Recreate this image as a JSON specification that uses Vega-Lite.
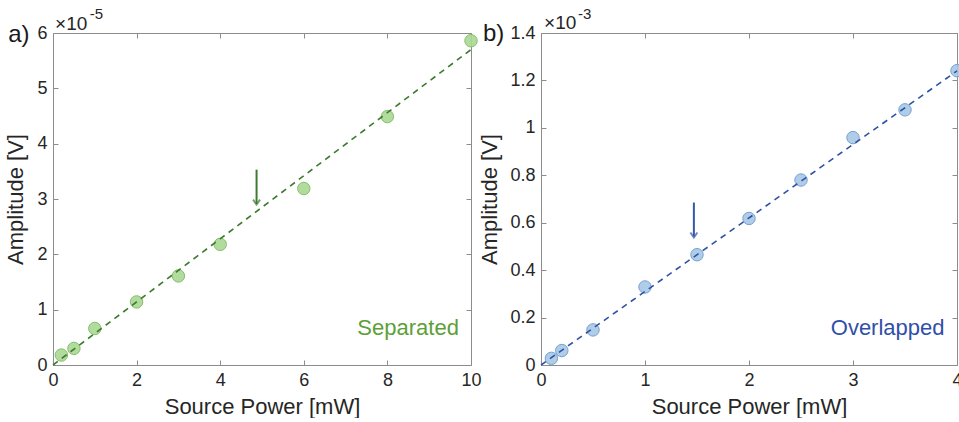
{
  "$schema": "https://vega.github.io/schema/vega-lite/v6.json",
  "background": "white",
  "padding": {"left": 4, "top": 6, "right": 0, "bottom": 0},
  "autosize": {"type": "pad"},
  "spacing": 70,
  "bounds": "flush",
  "config": {
    "font": "Liberation Sans",
    "view": {"stroke": "#8c8c8c", "strokeWidth": 1},
    "axis": {
      "domain": false,
      "grid": false,
      "tickColor": "#8c8c8c",
      "tickSize": -5,
      "tickWidth": 1,
      "labelFont": "Liberation Sans",
      "labelFontSize": 18,
      "labelColor": "#262626",
      "labelPadding": 11,
      "labelFlush": false,
      "labelOverlap": false,
      "titleFont": "Liberation Sans",
      "titleFontSize": 22,
      "titleFontWeight": "normal",
      "titleColor": "#262626"
    }
  },
  "datasets": {
    "sep": [
      {"power": 0.2, "amp": 0.18},
      {"power": 0.5, "amp": 0.30},
      {"power": 1, "amp": 0.66},
      {"power": 2, "amp": 1.14},
      {"power": 3, "amp": 1.61},
      {"power": 4, "amp": 2.18},
      {"power": 6, "amp": 3.19},
      {"power": 8, "amp": 4.49},
      {"power": 10, "amp": 5.86}
    ],
    "sepfit": [
      {"power": 0, "amp": 0},
      {"power": 10, "amp": 5.70}
    ],
    "ovl": [
      {"power": 0.1, "amp": 0.028},
      {"power": 0.2, "amp": 0.061},
      {"power": 0.5, "amp": 0.148},
      {"power": 1, "amp": 0.329},
      {"power": 1.5, "amp": 0.465},
      {"power": 2, "amp": 0.618},
      {"power": 2.5, "amp": 0.780},
      {"power": 3, "amp": 0.959},
      {"power": 3.5, "amp": 1.076},
      {"power": 4, "amp": 1.241}
    ],
    "ovlfit": [
      {"power": 0, "amp": 0},
      {"power": 4, "amp": 1.24}
    ]
  },
  "hconcat": [
    {
      "width": 418,
      "height": 332,
      "layer": [
        {
          "data": {"name": "sep"},
          "mark": {"type": "circle", "size": 155, "fill": "#a9d893", "fillOpacity": 0.9, "stroke": "#86bf6c", "strokeWidth": 1, "opacity": 1},
          "encoding": {
            "x": {"field": "power", "type": "quantitative", "scale": {"domain": [0, 10], "nice": false, "zero": false},
                  "axis": {"orient": "bottom", "values": [0, 2, 4, 6, 8, 10], "title": "Source Power [mW]", "titlePadding": 7}},
            "y": {"field": "amp", "type": "quantitative", "scale": {"domain": [0, 6], "nice": false, "zero": false},
                  "axis": {"orient": "left", "values": [0, 1, 2, 3, 4, 5, 6], "title": "Amplitude [V]", "titlePadding": 9}}
          }
        },
        {
          "data": {"name": "sepfit"},
          "mark": {"type": "line", "color": "#3e7b31", "strokeWidth": 1.6, "strokeDash": [6, 5]},
          "encoding": {
            "x": {"field": "power", "type": "quantitative", "scale": {"domain": [0, 10], "nice": false, "zero": false},
                  "axis": {"orient": "top", "values": [0, 2, 4, 6, 8, 10], "labels": false, "title": null}},
            "y": {"field": "amp", "type": "quantitative", "scale": {"domain": [0, 6], "nice": false, "zero": false},
                  "axis": {"orient": "right", "values": [0, 1, 2, 3, 4, 5, 6], "labels": false, "title": null}}
          }
        },
        {
          "data": {"values": [{"label": "arrow"}]},
          "mark": {"type": "rule", "color": "#3e7b31", "strokeWidth": 2},
          "encoding": {
            "x": {"datum": 4.87, "type": "quantitative", "scale": {"domain": [0, 10], "nice": false, "zero": false}, "axis": null},
            "y": {"datum": 3.53, "type": "quantitative", "scale": {"domain": [0, 6], "nice": false, "zero": false}, "axis": null},
            "y2": {"datum": 2.91}
          }
        },
        {
          "data": {"values": [{"label": "arrowhead"}]},
          "mark": {"type": "point", "shape": "M-1,-1.4L0,0L1,-1.4", "size": 49, "filled": false, "stroke": "#3e7b31", "strokeWidth": 2},
          "encoding": {
            "x": {"datum": 4.87, "type": "quantitative", "scale": {"domain": [0, 10], "nice": false, "zero": false}, "axis": null},
            "y": {"datum": 2.90, "type": "quantitative", "scale": {"domain": [0, 6], "nice": false, "zero": false}, "axis": null}
          }
        },
        {
          "data": {"values": [{"label": "Separated"}]},
          "mark": {"type": "text", "align": "right", "baseline": "middle", "fontSize": 22, "color": "#5d9f38"},
          "encoding": {
            "text": {"field": "label"},
            "x": {"datum": 9.71, "type": "quantitative", "scale": {"domain": [0, 10], "nice": false, "zero": false}, "axis": null},
            "y": {"datum": 0.66, "type": "quantitative", "scale": {"domain": [0, 6], "nice": false, "zero": false}, "axis": null}
          }
        },
        {
          "data": {"values": [{"label": "a)"}]},
          "mark": {"type": "text", "align": "left", "baseline": "middle", "fontSize": 24, "color": "#1a1a1a"},
          "encoding": {
            "text": {"field": "label"},
            "x": {"datum": -1.07, "type": "quantitative", "scale": {"domain": [0, 10], "nice": false, "zero": false}, "axis": null},
            "y": {"datum": 5.97, "type": "quantitative", "scale": {"domain": [0, 6], "nice": false, "zero": false}, "axis": null}
          }
        },
        {
          "data": {"values": [{"label": "×10"}]},
          "mark": {"type": "text", "align": "left", "baseline": "alphabetic", "fontSize": 19, "color": "#262626"},
          "encoding": {
            "text": {"field": "label"},
            "x": {"datum": 0.05, "type": "quantitative", "scale": {"domain": [0, 10], "nice": false, "zero": false}, "axis": null},
            "y": {"datum": 6.06, "type": "quantitative", "scale": {"domain": [0, 6], "nice": false, "zero": false}, "axis": null}
          }
        },
        {
          "data": {"values": [{"label": "-5"}]},
          "mark": {"type": "text", "align": "left", "baseline": "alphabetic", "fontSize": 15, "color": "#262626"},
          "encoding": {
            "text": {"field": "label"},
            "x": {"datum": 0.88, "type": "quantitative", "scale": {"domain": [0, 10], "nice": false, "zero": false}, "axis": null},
            "y": {"datum": 6.25, "type": "quantitative", "scale": {"domain": [0, 6], "nice": false, "zero": false}, "axis": null}
          }
        }
      ],
      "resolve": {"axis": {"x": "independent", "y": "independent"}}
    },
    {
      "width": 416,
      "height": 332,
      "layer": [
        {
          "data": {"name": "ovl"},
          "mark": {"type": "circle", "size": 155, "fill": "#a6c6e5", "fillOpacity": 0.9, "stroke": "#77a2cf", "strokeWidth": 1, "opacity": 1},
          "encoding": {
            "x": {"field": "power", "type": "quantitative", "scale": {"domain": [0, 4], "nice": false, "zero": false},
                  "axis": {"orient": "bottom", "values": [0, 1, 2, 3, 4], "title": "Source Power [mW]", "titlePadding": 7}},
            "y": {"field": "amp", "type": "quantitative", "scale": {"domain": [0, 1.4], "nice": false, "zero": false},
                  "axis": {"orient": "left", "values": [0, 0.2, 0.4, 0.6, 0.8, 1, 1.2, 1.4], "format": "~g", "title": "Amplitude [V]", "titlePadding": 8}}
          }
        },
        {
          "data": {"name": "ovlfit"},
          "mark": {"type": "line", "color": "#2f52a4", "strokeWidth": 1.6, "strokeDash": [6, 5]},
          "encoding": {
            "x": {"field": "power", "type": "quantitative", "scale": {"domain": [0, 4], "nice": false, "zero": false},
                  "axis": {"orient": "top", "values": [0, 1, 2, 3, 4], "labels": false, "title": null}},
            "y": {"field": "amp", "type": "quantitative", "scale": {"domain": [0, 1.4], "nice": false, "zero": false},
                  "axis": {"orient": "right", "values": [0, 0.2, 0.4, 0.6, 0.8, 1, 1.2, 1.4], "labels": false, "title": null}}
          }
        },
        {
          "data": {"values": [{"label": "arrow"}]},
          "mark": {"type": "rule", "color": "#3558a8", "strokeWidth": 2},
          "encoding": {
            "x": {"datum": 1.47, "type": "quantitative", "scale": {"domain": [0, 4], "nice": false, "zero": false}, "axis": null},
            "y": {"datum": 0.685, "type": "quantitative", "scale": {"domain": [0, 1.4], "nice": false, "zero": false}, "axis": null},
            "y2": {"datum": 0.542}
          }
        },
        {
          "data": {"values": [{"label": "arrowhead"}]},
          "mark": {"type": "point", "shape": "M-1,-1.4L0,0L1,-1.4", "size": 49, "filled": false, "stroke": "#3558a8", "strokeWidth": 2},
          "encoding": {
            "x": {"datum": 1.47, "type": "quantitative", "scale": {"domain": [0, 4], "nice": false, "zero": false}, "axis": null},
            "y": {"datum": 0.538, "type": "quantitative", "scale": {"domain": [0, 1.4], "nice": false, "zero": false}, "axis": null}
          }
        },
        {
          "data": {"values": [{"label": "Overlapped"}]},
          "mark": {"type": "text", "align": "right", "baseline": "middle", "fontSize": 22, "color": "#2f50a8"},
          "encoding": {
            "text": {"field": "label"},
            "x": {"datum": 3.88, "type": "quantitative", "scale": {"domain": [0, 4], "nice": false, "zero": false}, "axis": null},
            "y": {"datum": 0.157, "type": "quantitative", "scale": {"domain": [0, 1.4], "nice": false, "zero": false}, "axis": null}
          }
        },
        {
          "data": {"values": [{"label": "b)"}]},
          "mark": {"type": "text", "align": "left", "baseline": "middle", "fontSize": 24, "color": "#1a1a1a"},
          "encoding": {
            "text": {"field": "label"},
            "x": {"datum": -0.558, "type": "quantitative", "scale": {"domain": [0, 4], "nice": false, "zero": false}, "axis": null},
            "y": {"datum": 1.396, "type": "quantitative", "scale": {"domain": [0, 1.4], "nice": false, "zero": false}, "axis": null}
          }
        },
        {
          "data": {"values": [{"label": "×10"}]},
          "mark": {"type": "text", "align": "left", "baseline": "alphabetic", "fontSize": 19, "color": "#262626"},
          "encoding": {
            "text": {"field": "label"},
            "x": {"datum": 0.03, "type": "quantitative", "scale": {"domain": [0, 4], "nice": false, "zero": false}, "axis": null},
            "y": {"datum": 1.417, "type": "quantitative", "scale": {"domain": [0, 1.4], "nice": false, "zero": false}, "axis": null}
          }
        },
        {
          "data": {"values": [{"label": "-3"}]},
          "mark": {"type": "text", "align": "left", "baseline": "alphabetic", "fontSize": 15, "color": "#262626"},
          "encoding": {
            "text": {"field": "label"},
            "x": {"datum": 0.355, "type": "quantitative", "scale": {"domain": [0, 4], "nice": false, "zero": false}, "axis": null},
            "y": {"datum": 1.46, "type": "quantitative", "scale": {"domain": [0, 1.4], "nice": false, "zero": false}, "axis": null}
          }
        }
      ],
      "resolve": {"axis": {"x": "independent", "y": "independent"}}
    }
  ]
}
